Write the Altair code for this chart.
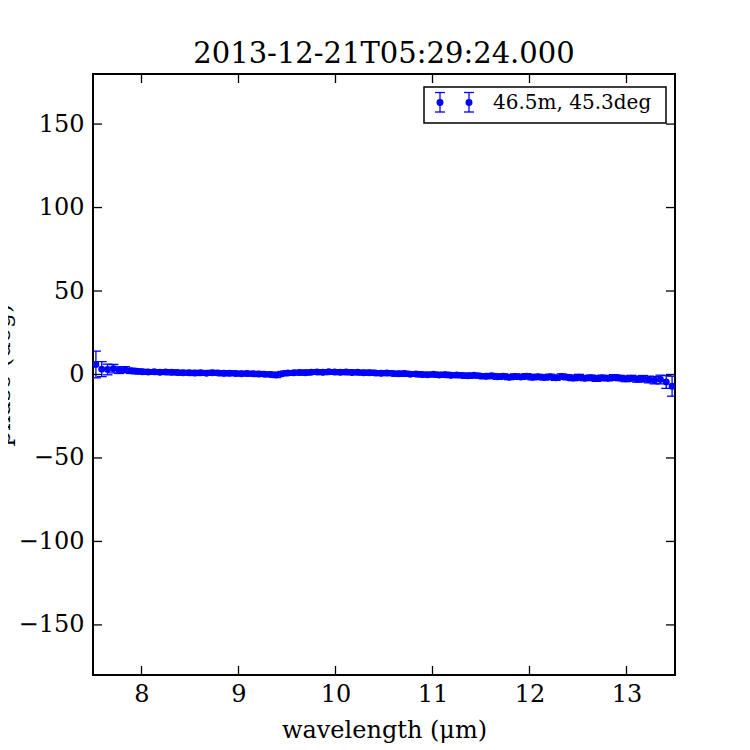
import altair as alt
import pandas as pd

# ---------------- data ----------------
wavelength = [
    7.53, 7.59, 7.65, 7.71, 7.77, 7.83, 7.89, 7.95, 8.01, 8.07,
    8.13, 8.19, 8.25, 8.31, 8.37, 8.43, 8.49, 8.55, 8.61, 8.67,
    8.73, 8.79, 8.85, 8.91, 8.97, 9.03, 9.09, 9.15, 9.21, 9.27,
    9.33, 9.39, 9.45, 9.51, 9.57, 9.63, 9.69, 9.75, 9.81, 9.87,
    9.93, 9.99, 10.05, 10.11, 10.17, 10.23, 10.29, 10.35, 10.41, 10.47,
    10.53, 10.59, 10.65, 10.71, 10.77, 10.83, 10.89, 10.95, 11.01, 11.07,
    11.13, 11.19, 11.25, 11.31, 11.37, 11.43, 11.49, 11.55, 11.61, 11.67,
    11.73, 11.79, 11.85, 11.91, 11.97, 12.03, 12.09, 12.15, 12.21, 12.27,
    12.33, 12.39, 12.45, 12.51, 12.57, 12.63, 12.69, 12.75, 12.81, 12.87,
    12.93, 12.99, 13.05, 13.11, 13.17, 13.23, 13.29, 13.35, 13.41, 13.47,
]
phase = [
    6.0, 3.2, 3.0, 3.5, 2.6, 2.9, 2.2, 1.9, 1.7, 1.5,
    1.6, 1.4, 1.5, 1.3, 1.2, 1.0, 1.1, 0.9, 1.0, 0.8,
    1.1, 0.9, 0.7, 0.8, 0.6, 0.5, 0.6, 0.4, 0.3, 0.2,
    0.0, -0.3, 0.5, 0.9, 1.0, 1.2, 1.1, 1.4, 1.5, 1.3,
    1.6, 1.5, 1.4, 1.5, 1.2, 1.3, 1.0, 1.1, 0.9, 0.7,
    0.9, 0.6, 0.4, 0.6, 0.2, 0.3, 0.0, -0.2, 0.1, -0.3,
    -0.1, -0.5, -0.3, -0.6, -0.8, -0.5, -0.9, -1.1, -0.8, -1.3,
    -1.0, -1.6, -1.2, -1.5, -1.0, -1.6, -1.3, -1.8, -1.4, -2.0,
    -1.2, -1.7, -2.1, -1.6, -2.2, -1.9, -2.4, -2.0, -2.3, -1.8,
    -2.1, -2.6, -2.2, -2.8, -2.5, -3.0, -3.4, -3.0, -4.5, -7.0,
]
phase_err = [
    8.0, 4.5, 3.2, 2.5, 2.0, 1.8, 1.6, 1.5, 1.4, 1.4,
    1.3, 1.4, 1.3, 1.5, 1.3, 1.4, 1.3, 1.5, 1.4, 1.3,
    1.4, 1.3, 1.5, 1.4, 1.3, 1.4, 1.3, 1.4, 1.5, 1.3,
    1.4, 1.5, 1.3, 1.4, 1.3, 1.4, 1.5, 1.3, 1.4, 1.4,
    1.3, 1.4, 1.5, 1.3, 1.4, 1.3, 1.4, 1.5, 1.3, 1.4,
    1.4, 1.3, 1.5, 1.4, 1.3, 1.4, 1.5, 1.3, 1.4, 1.4,
    1.5, 1.4, 1.3, 1.4, 1.5, 1.4, 1.3, 1.5, 1.4, 1.6,
    1.4, 1.5, 1.6, 1.4, 1.5, 1.6, 1.4, 1.5, 1.6, 1.5,
    1.6, 1.5, 1.6, 1.7, 1.5, 1.6, 1.7, 1.6, 1.5, 1.7,
    1.6, 1.7, 1.7, 1.8, 1.9, 2.0, 2.2, 2.6, 3.8, 6.0,
]

x_ticks = [8, 9, 10, 11, 12, 13]
y_ticks = [-150, -100, -50, 0, 50, 100, 150]

title_text = "2013-12-21T05:29:24.000"
legend_label = "46.5m, 45.3deg"
x_title = "wavelength (μm)"
y_title = "phase (deg)"

# ---------------- styling ----------------
W, H = 582, 601
FONT = "DejaVu Serif"
BLUE = "#0000ff"
TICK_LEN = 9
MARKER = 48

df = pd.DataFrame({"w": wavelength, "p": phase, "e": phase_err})
df["lo"] = df["p"] - df["e"]
df["hi"] = df["p"] + df["e"]

xs = alt.Scale(domain=[7.5, 13.5], nice=False, zero=False)
ys = alt.Scale(domain=[-180, 180], nice=False, zero=False)

x_axis = alt.Axis(
    values=x_ticks, format="d", ticks=False, domain=False, grid=False,
    labelFont=FONT, labelFontSize=24, labelPadding=7, labelColor="black",
    title=x_title, titleFont=FONT, titleFontSize=24, titleFontWeight="normal",
    titleColor="black", titleY=62, titleBaseline="alphabetic",
)
y_axis = alt.Axis(
    values=y_ticks, format="d", ticks=False, domain=False, grid=False,
    labelFont=FONT, labelFontSize=24, labelPadding=9, labelColor="black",
    title=y_title, titleFont=FONT, titleFontSize=24, titleFontWeight="normal",
    titleColor="black", titleX=-84, titleY=H / 2, titleAngle=270,
    titleBaseline="alphabetic", titleAlign="center",
)

base = alt.Chart(df)

bars = base.mark_rule(color=BLUE, strokeWidth=1.3, clip=True).encode(
    x=alt.X("w:Q", scale=xs, axis=x_axis),
    y=alt.Y("lo:Q", scale=ys, axis=y_axis),
    y2="hi:Q",
)
cap_lo = base.mark_tick(orient="horizontal", size=10, thickness=1.3, color=BLUE, opacity=1, clip=True).encode(
    x=alt.X("w:Q", scale=xs, axis=x_axis),
    y=alt.Y("lo:Q", scale=ys, axis=y_axis),
)
cap_hi = base.mark_tick(orient="horizontal", size=10, thickness=1.3, color=BLUE, opacity=1, clip=True).encode(
    x=alt.X("w:Q", scale=xs, axis=x_axis),
    y=alt.Y("hi:Q", scale=ys, axis=y_axis),
)
points = base.mark_circle(size=MARKER, color=BLUE, opacity=1, clip=True).encode(
    x=alt.X("w:Q", scale=xs, axis=x_axis),
    y=alt.Y("p:Q", scale=ys, axis=y_axis),
)

# inward ticks on all four sides
xt = alt.Chart(pd.DataFrame({"t": x_ticks}))
yt = alt.Chart(pd.DataFrame({"t": y_ticks}))
tick_style = dict(color="black", strokeWidth=1.3)
xtick_top = xt.mark_rule(**tick_style).encode(
    x=alt.X("t:Q", scale=xs, axis=x_axis), y=alt.value(0), y2=alt.value(TICK_LEN))
xtick_bot = xt.mark_rule(**tick_style).encode(
    x=alt.X("t:Q", scale=xs, axis=x_axis), y=alt.value(H - TICK_LEN), y2=alt.value(H))
ytick_left = yt.mark_rule(**tick_style).encode(
    y=alt.Y("t:Q", scale=ys, axis=y_axis), x=alt.value(0), x2=alt.value(TICK_LEN))
ytick_right = yt.mark_rule(**tick_style).encode(
    y=alt.Y("t:Q", scale=ys, axis=y_axis), x=alt.value(W - TICK_LEN), x2=alt.value(W))

one = alt.Chart(pd.DataFrame({"k": [0]}))

# chart title as a text mark above the frame
title_mark = one.mark_text(
    align="center", baseline="alphabetic", font=FONT, fontSize=29, color="black"
).encode(x=alt.value(W / 2), y=alt.value(-11), text=alt.value(title_text))

# legend box (drawn by hand, matplotlib style)
legend_layers = [
    one.mark_rect(fill="white", stroke="black", strokeWidth=1.5).encode(
        x=alt.value(331), x2=alt.value(573), y=alt.value(13), y2=alt.value(49)),
]
for sx in (347, 376):
    legend_layers += [
        one.mark_rule(color=BLUE, strokeWidth=1.3).encode(
            x=alt.value(sx), y=alt.value(18.5), y2=alt.value(38)),
        one.mark_rule(color=BLUE, strokeWidth=1.3).encode(
            x=alt.value(sx - 5), x2=alt.value(sx + 5), y=alt.value(18.5)),
        one.mark_rule(color=BLUE, strokeWidth=1.3).encode(
            x=alt.value(sx - 5), x2=alt.value(sx + 5), y=alt.value(38)),
        one.mark_circle(size=MARKER, color=BLUE, opacity=1).encode(
            x=alt.value(sx), y=alt.value(28.5)),
    ]
legend_layers.append(
    one.mark_text(align="left", baseline="alphabetic", font=FONT, fontSize=20, color="black").encode(
        x=alt.value(400), y=alt.value(34.5), text=alt.value(legend_label))
)

chart = alt.layer(
    bars, cap_lo, cap_hi, points,
    xtick_top, xtick_bot, ytick_left, ytick_right,
    title_mark,
    *legend_layers,
).properties(
    width=W, height=H,
    autosize=alt.AutoSizeParams(type="none"),
    padding={"left": 85, "top": 66, "right": 67, "bottom": 76},
).configure_view(
    stroke="black", strokeWidth=2
)

chart.save("out.html", embed_options={"renderer": "svg", "actions": False})
